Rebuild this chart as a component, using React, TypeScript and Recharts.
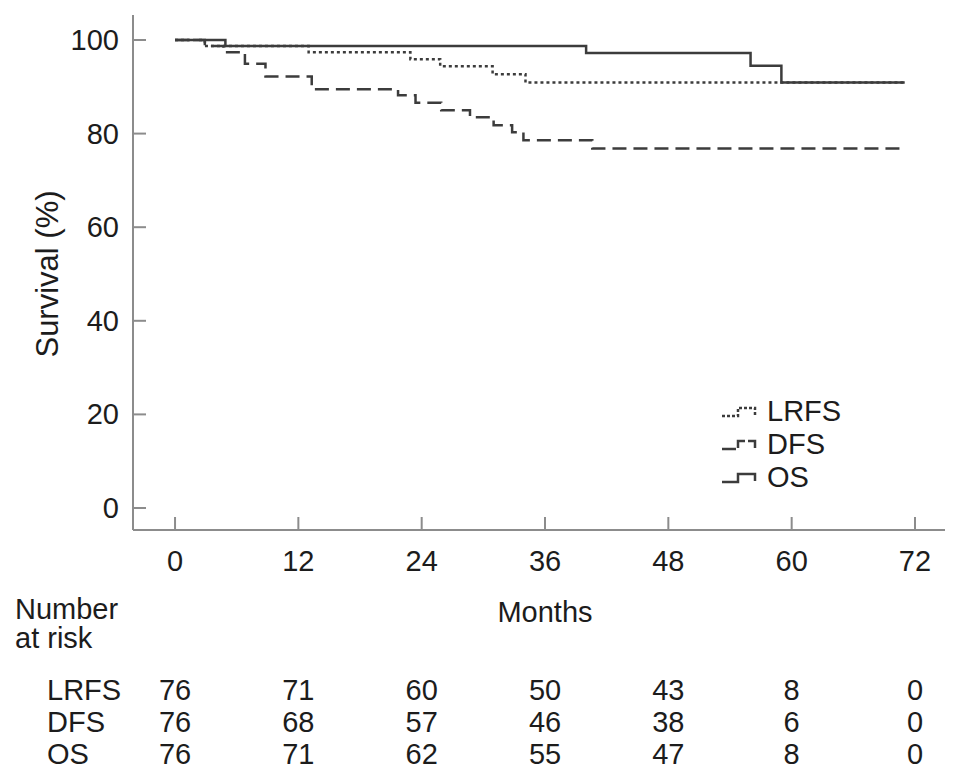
import { LineChart, Line, XAxis, YAxis } from 'recharts';

// Kaplan-Meier steps (months, % surviving)
const monthTicks = [0, 12, 24, 36, 48, 60, 72];
const survivalTicks = [0, 20, 40, 60, 80, 100];

const lrfsMonths = [0, 2.9, 13, 22.9, 25.8, 30.9, 34.1, 71];
const lrfsSurvival = [100, 98.7, 97.4, 95.9, 94.4, 92.7, 90.9, 90.9];

const dfsMonths = [0, 2.9, 4.7, 6.8, 8.8, 13.3, 21.7, 23.4, 25.9, 28.7, 31.0, 32.8, 33.9, 40.6, 71];
const dfsSurvival = [100, 98.7, 97.4, 94.9, 92.2, 89.5, 88.2, 86.6, 85.0, 83.5, 81.8, 80.3, 78.6, 76.8, 76.8];

const osMonths = [0, 4.9, 40, 56, 59, 71];
const osSurvival = [100, 98.7, 97.2, 94.5, 90.9, 90.9];

// number at risk at each month tick
const lrfsRisk = [76, 71, 60, 50, 43, 8, 0];
const dfsRisk = [76, 68, 57, 46, 38, 6, 0];
const osRisk = [76, 71, 62, 55, 47, 8, 0];

const FONT = '"Liberation Sans", Arial, Helvetica, sans-serif';
const TEXT = '#1c1c1c';
const AXIS = '#8c8c8c';
const LINE = '#3c3c3c';
const FS = 29;

const toSteps = (months: number[], surv: number[]) =>
  months.map((m, i) => ({ month: m, value: surv[i] }));

const series = [
  { name: 'LRFS', data: toSteps(lrfsMonths, lrfsSurvival), dash: '3 3', legendDash: '3 2', risk: lrfsRisk },
  { name: 'DFS', data: toSteps(dfsMonths, dfsSurvival), dash: '14 7', legendDash: '14 3', risk: dfsRisk },
  { name: 'OS', data: toSteps(osMonths, osSurvival), dash: undefined, legendDash: undefined, risk: osRisk },
];

const MonthTick = (props: any) => {
  const { x, y, payload } = props;
  const idx = monthTicks.indexOf(payload.value);
  return (
    <g>
      <line x1={x} y1={y} x2={x} y2={y - 13} stroke={AXIS} strokeWidth={2} />
      <text x={x} y={y + 31} textAnchor="middle" dominantBaseline="central"
        fontFamily={FONT} fontSize={FS} fill={TEXT}>{payload.value}</text>
      {series.map((s, r) => (
        <text key={s.name} x={x} y={y + 160 + r * 32} textAnchor="middle" dominantBaseline="central"
          fontFamily={FONT} fontSize={FS} fill={TEXT}>{s.risk[idx]}</text>
      ))}
    </g>
  );
};

const SurvivalTick = (props: any) => {
  const { x, y, payload } = props;
  return (
    <g>
      <line x1={x} y1={y} x2={x + 13} y2={y} stroke={AXIS} strokeWidth={2} />
      <text x={x - 14} y={y} textAnchor="end" dominantBaseline="central"
        fontFamily={FONT} fontSize={FS} fill={TEXT}>{payload.value}</text>
    </g>
  );
};

const labelStyle: React.CSSProperties = {
  position: 'absolute',
  fontFamily: FONT,
  fontSize: FS,
  color: TEXT,
  lineHeight: '26px',
  whiteSpace: 'nowrap',
};

export default function App() {
  return (
    <div style={{ position: 'absolute', left: 0, top: 0, width: 969, height: 778, background: '#fff' }}>
      <LineChart width={969} height={778} margin={{ top: 15, right: 24, bottom: 247, left: 132 }}>
        <XAxis
          dataKey="month"
          type="number"
          domain={[-4.09, 74.92]}
          allowDataOverflow
          ticks={monthTicks}
          interval={0}
          height={1}
          tickSize={0}
          tickMargin={0}
          tickLine={false}
          tick={<MonthTick />}
          axisLine={{ stroke: AXIS, strokeWidth: 2 }}
        />
        <YAxis
          type="number"
          domain={[-4.7, 105.34]}
          allowDataOverflow
          ticks={survivalTicks}
          interval={0}
          width={1}
          tickSize={0}
          tickMargin={0}
          tickLine={false}
          tick={<SurvivalTick />}
          axisLine={{ stroke: AXIS, strokeWidth: 2 }}
        />
        {series.map((s) => (
          <Line
            key={s.name}
            data={s.data}
            dataKey="value"
            type="stepAfter"
            stroke={LINE}
            strokeWidth={2.5}
            strokeDasharray={s.dash}
            dot={false}
            activeDot={false}
            isAnimationActive={false}
          />
        ))}
      </LineChart>

      {/* legend */}
      <svg style={{ position: 'absolute', left: 715, top: 390 }} width={160} height={110}>
        {series.map((s, i) => {
          const c = 21 + i * 33;
          return (
            <g key={s.name}>
              <path d={`M7,${c + 5} H23 V${c - 3} H40 V${c + 4}`} fill="none" stroke={LINE}
                strokeWidth={2.5} strokeDasharray={s.legendDash} />
              <text x={52} y={c} dominantBaseline="central" fontFamily={FONT} fontSize={FS} fill={TEXT}>{s.name}</text>
            </g>
          );
        })}
      </svg>

      {/* axis titles and risk table labels */}
      <div style={{ ...labelStyle, fontSize: 31, left: 48, top: 274, transform: 'translate(-50%, -50%) rotate(-90deg)' }}>
        Survival (%)
      </div>
      <div style={{ ...labelStyle, left: 545, top: 612, transform: 'translate(-50%, -50%)' }}>Months</div>
      <div style={{ ...labelStyle, left: 15, top: 609, transform: 'translateY(-50%)' }}>Number</div>
      <div style={{ ...labelStyle, left: 15, top: 638, transform: 'translateY(-50%)' }}>at risk</div>
      {series.map((s, r) => (
        <div key={s.name} style={{ ...labelStyle, left: 47, top: 690 + r * 32, transform: 'translateY(-50%)' }}>
          {s.name}
        </div>
      ))}
    </div>
  );
}
